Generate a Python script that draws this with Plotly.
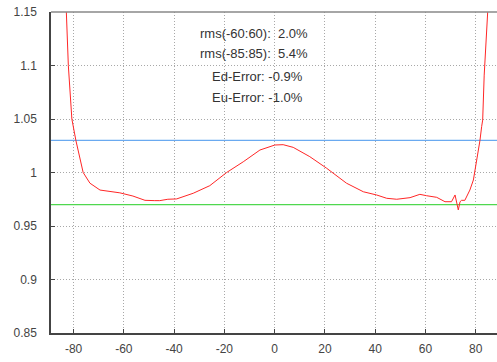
import plotly.graph_objects as go

# Curve data
angle = [-84.0, -82.9, -82.1, -80.7, -79.1, -76.2, -73.5, -69.5, -65.6, -61.6, -56.4, -51.6,
         -47.7, -45.7, -42.5, -39.0, -32.4, -25.8, -19.1, -12.5, -5.85, 0.1, 3.4, 7.4, 14.0,
         20.7, 26.0, 28.6, 35.3, 40.6, 44.6, 48.6, 53.9, 57.8, 60.5, 64.5, 67.8, 70.4, 71.8,
         72.4, 73.1, 73.8, 74.4, 75.7, 77.7, 79.1, 79.7, 81.0, 81.7, 82.4, 82.8, 83.4, 84.0,
         84.4, 84.8, 85.3]
ratio = [1.22, 1.15, 1.10, 1.05, 1.03, 1.0, 0.990, 0.9836, 0.982, 0.981, 0.978, 0.974,
         0.9737, 0.9737, 0.975, 0.9753, 0.9806, 0.9877, 1.0, 1.010, 1.021, 1.0257, 1.026,
         1.0235, 1.0148, 1.004, 0.9946, 0.990, 0.982, 0.979, 0.9759, 0.975, 0.9765, 0.9796,
         0.9783, 0.9768, 0.9727, 0.9727, 0.979, 0.9727, 0.965, 0.9727, 0.974, 0.974, 0.9836,
         0.993, 1.0008, 1.018, 1.0297, 1.043, 1.049, 1.091, 1.1145, 1.138, 1.15, 1.20]

upper_limit = 1.03
lower_limit = 0.97

x_ticks = [-80, -60, -40, -20, 0, 20, 40, 60, 80]
x_tick_labels = ["-80", "-60", "-40", "-20", "0", "20", "40", "60", "80"]
y_ticks = [0.85, 0.9, 0.95, 1.0, 1.05, 1.1, 1.15]
y_tick_labels = ["0.85", "0.9", "0.95", "1", "1.05", "1.1", "1.15"]

stats_lines = ["rms(-60:60):  2.0%", "rms(-85:85):  5.4%", "Ed-Error: -0.9%", "Eu-Error: -1.0%"]

x_range = [-89.0, 88.5]

fig = go.Figure()
fig.add_trace(go.Scatter(x=x_range, y=[upper_limit, upper_limit], mode="lines",
                         line=dict(color="#6aaaf0", width=1.3), hoverinfo="skip"))
fig.add_trace(go.Scatter(x=x_range, y=[lower_limit, lower_limit], mode="lines",
                         line=dict(color="#4fd84f", width=1.3), hoverinfo="skip"))
fig.add_trace(go.Scatter(x=angle, y=ratio, mode="lines",
                         line=dict(color="#ff2626", width=1), cliponaxis=True))

font = dict(family="Liberation Sans, Arial, sans-serif", size=12, color="#444444")

plot_left, plot_right, plot_top, plot_bottom = 51, 497, 12, 333
ann_y = [33, 53, 76, 97]
for txt, yp, xp in zip(stats_lines, ann_y, [254, 254, 257, 257]):
    fig.add_annotation(text=txt,
                       x=(xp - plot_left) / (plot_right - plot_left),
                       y=(plot_bottom - yp) / (plot_bottom - plot_top),
                       xref="paper", yref="paper", showarrow=False,
                       font=dict(family=font["family"], size=13, color="#333333"),
                       xanchor="center", yanchor="middle")

fig.add_shape(type="line", xref="paper", yref="paper", x0=0, x1=1, y0=1, y1=1,
              line=dict(color="#888888", width=1.5))

grid = dict(showgrid=True, gridcolor="#a8a8a8", griddash="1px,2px", gridwidth=1)

fig.update_layout(
    width=497, height=362,
    margin=dict(l=51, r=0, t=12, b=29),
    paper_bgcolor="white", plot_bgcolor="white",
    showlegend=False, font=font,
    xaxis=dict(range=x_range, tickvals=x_ticks, ticktext=x_tick_labels, **grid,
               zeroline=False, showline=True, linecolor="#444444", linewidth=1.5,
               ticks="inside", ticklen=4, tickcolor="#444444", ticklabelstandoff=4),
    yaxis=dict(range=[0.85, 1.15], tickvals=y_ticks, ticktext=y_tick_labels, **grid,
               zeroline=False, showline=True, linecolor="#444444", linewidth=1.5,
               ticks="inside", ticklen=4, tickcolor="#444444", ticklabelstandoff=10),
)

fig.write_html("out.html", config={"displayModeBar": False},
               post_script="document.body.style.margin='0';document.body.style.overflow='hidden';")
